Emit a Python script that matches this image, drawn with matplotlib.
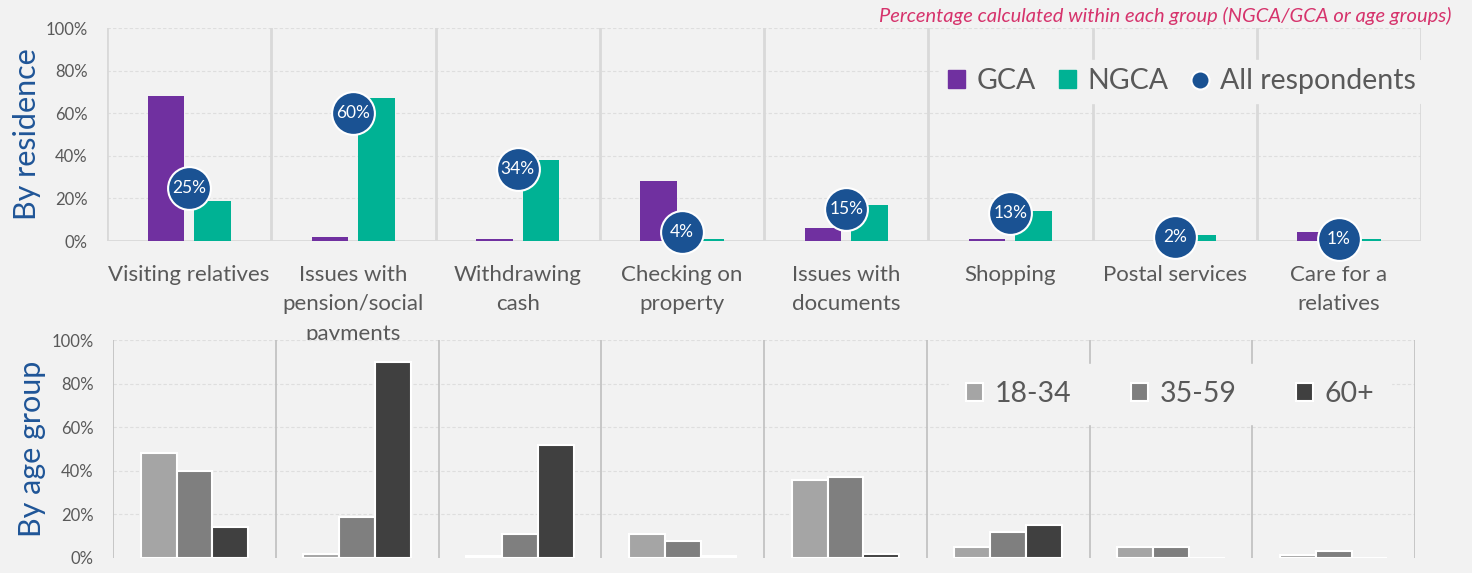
import matplotlib
matplotlib.use("Agg")
import matplotlib.pyplot as plt
import numpy as np
from matplotlib.patches import Patch
from matplotlib.lines import Line2D

plt.rcParams['font.family'] = ['Lato', 'DejaVu Sans']

# Data
categories = [
    'Visiting relatives', 'Issues with\npension/social\npayments', 'Withdrawing\ncash',
    'Checking on\nproperty', 'Issues with\ndocuments', 'Shopping', 'Postal services',
    'Care for a\nrelatives'
]
gca = [68, 2, 1, 28, 6, 1, 0, 4]
ngca = [19, 67, 38, 1, 17, 14, 3, 1]
all_resp = [25, 60, 34, 4, 15, 13, 2, 1]

age_18_34 = [48, 2, 1, 11, 36, 5, 5, 1.5]
age_35_59 = [40, 19, 11, 8, 37, 12, 5, 3]
age_60p = [14, 90, 52, 1, 2, 15, 0, 0]

yticks = [0, 20, 40, 60, 80, 100]
ytick_labels = ['0%', '20%', '40%', '60%', '80%', '100%']

bg = '#F2F2F2'
c_gca = '#7030A0'
c_ngca = '#00B294'
c_all = '#1A5293'
greys = ['#A5A5A5', '#7F7F7F', '#404040']
tick_col = '#595959'
label_col = '#1F5597'

fig = plt.figure(figsize=(14.72, 5.73), dpi=100, facecolor=bg)
ax1 = fig.add_axes([0.0727, 0.5794, 0.8927, 0.3717], facecolor=bg)
ax2 = fig.add_axes([0.0768, 0.0262, 0.8845, 0.3804], facecolor=bg)

x = np.arange(len(categories))

def style(ax, sep_col, sep_w):
    ax.set_xlim(-0.5, len(categories) - 0.5)
    ax.set_ylim(0, 100)
    ax.set_yticks(yticks)
    ax.set_yticklabels(ytick_labels, color=tick_col, fontsize=12)
    ax.tick_params(axis='both', length=0)
    ax.tick_params(axis='y', pad=14)
    for s in ax.spines.values():
        s.set_visible(False)
    for yv in yticks[1:]:
        ax.axhline(yv, color='#DEDEDE', lw=0.8, ls=(0, (3, 2)), zorder=0)
    for k in range(len(categories) + 1):
        ax.axvline(k - 0.5, color=sep_col, lw=sep_w, zorder=0.5)

# Top panel: by residence
style(ax1, '#D9D9D9', 2)
ax1.axhline(0, color='#D9D9D9', lw=2, zorder=0.6)
w = 0.223
ax1.bar(x - 0.142, gca, w, color=c_gca, zorder=2)
ax1.bar(x + 0.142, ngca, w, color=c_ngca, zorder=2)
ax1.scatter(x, all_resp, s=950, color=c_all, edgecolors='white', linewidths=1.5,
            zorder=5, clip_on=False)
for xi, v in zip(x, all_resp):
    ax1.text(xi, v, f'{v}%', color='white', fontsize=12.5, ha='center', va='center',
             zorder=6)
ax1.set_xticks(x)
ax1.set_xticklabels(categories, fontsize=16, color=tick_col, linespacing=1.6, va='top')
ax1.tick_params(axis='x', pad=17)
ax1.set_ylabel('By residence', color=label_col, fontsize=22, labelpad=3)

h1 = [Patch(color=c_gca), Patch(color=c_ngca),
      Line2D([], [], marker='o', ls='', markersize=13, color=c_all,
             markeredgecolor='white', markeredgewidth=1.5)]
leg1 = ax1.legend(h1, ['GCA', 'NGCA', 'All respondents'], ncol=3, fontsize=20.5,
                  loc='center', bbox_to_anchor=(0.818, 0.751), frameon=True,
                  facecolor=bg, edgecolor=bg, framealpha=1, handlelength=0.6,
                  handleheight=0.6, handletextpad=0.4, columnspacing=0.8,
                  labelcolor=tick_col, borderpad=0.3)
leg1.set_zorder(10)

# Bottom panel: by age group
style(ax2, '#BFBFBF', 1.2)
wb = 0.22
for off, vals, col in zip([-wb, 0, wb], [age_18_34, age_35_59, age_60p], greys):
    ax2.bar(x + off, vals, wb, color=col, edgecolor='white', linewidth=1.5, zorder=2)
ax2.set_xticks([])
ax2.set_ylabel('By age group', color=label_col, fontsize=22, labelpad=4)

h2 = [Patch(facecolor=c, edgecolor='white', linewidth=1.5) for c in greys]
leg2 = ax2.legend(h2, ['18-34', '35-59', '60+'], ncol=3, fontsize=20.5,
                  loc='center', bbox_to_anchor=(0.812, 0.752), frameon=True,
                  facecolor=bg, edgecolor=bg, framealpha=1, handlelength=0.6,
                  handleheight=0.6, handletextpad=0.4, columnspacing=2.1,
                  labelcolor=tick_col, borderpad=0.6)
leg2.set_zorder(10)

fig.text(0.986, 0.972, 'Percentage calculated within each group (NGCA/GCA or age groups)',
         ha='right', va='center', fontsize=14.5, style='italic', color='#D6336C')

fig.savefig('out.png', dpi=100, facecolor=bg)
